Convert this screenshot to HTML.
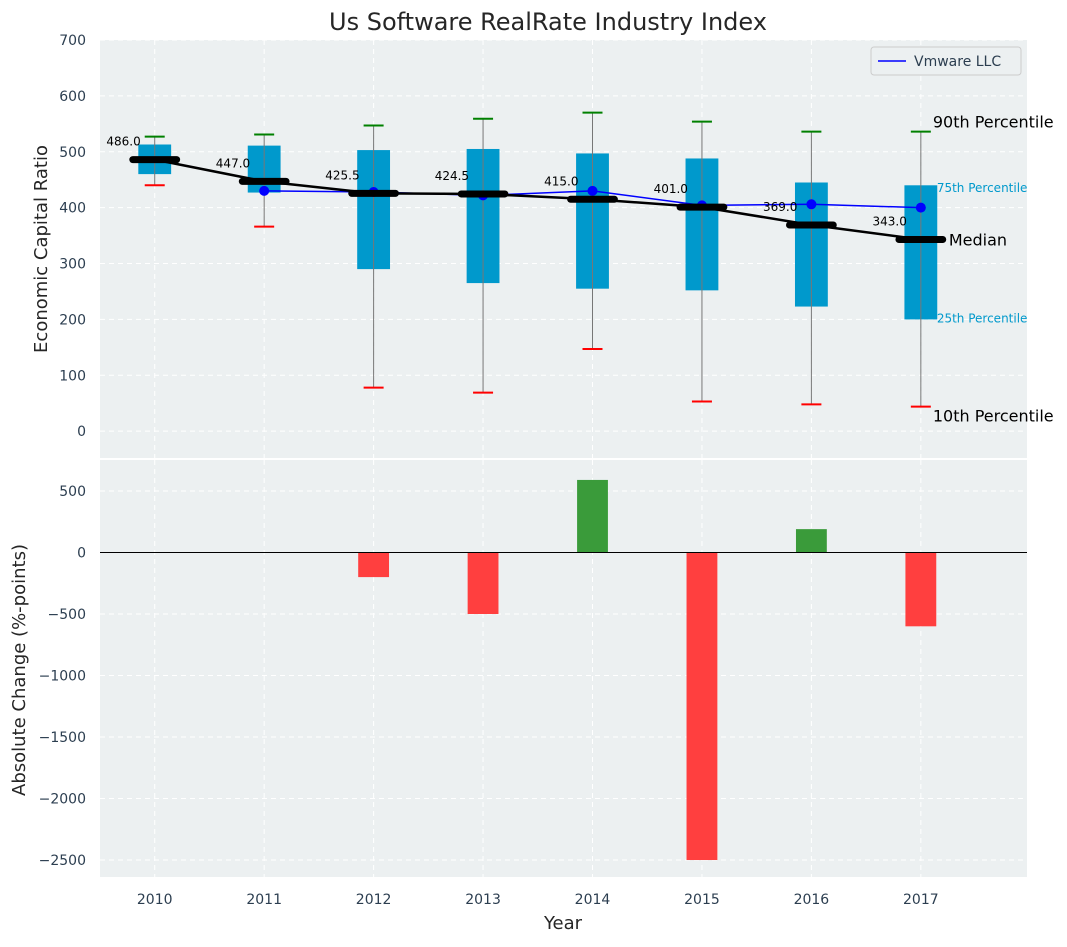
<!DOCTYPE html>
<html><head><meta charset="utf-8"><style>
body{margin:0;background:#fff;font-family:"Liberation Sans","DejaVu Sans",sans-serif}
svg text{font-family:"DejaVu Sans","Liberation Sans",sans-serif}
</style></head><body>
<svg id="chart" width="1067" height="942" xmlns="http://www.w3.org/2000/svg"></svg>
<script>
const years=[2010,2011,2012,2013,2014,2015,2016,2017];
const p10=[440,366,78,69,147,53,48,44];
const p25=[460,427,290,265,255,252,223,200];
const med=[486,447,425.5,424.5,415,401,369,343];
const p75=[513,511,503,505,497,488,445,440];
const p90=[527,531,547,559,570,554,536,536];
const vmYears=[2011,2012,2013,2014,2015,2016,2017];
const vm=[430,428,422,430,404,406,400];
const chg=[0,0,-200,-500,590,-2500,190,-600];
const topTicks=[0,100,200,300,400,500,600,700];
const botTicks=[500,0,-500,-1000,-1500,-2000,-2500];

const svg=document.getElementById('chart');
const NS='http://www.w3.org/2000/svg';
function el(t,a,txt){const e=document.createElementNS(NS,t);for(const k in a)e.setAttribute(k,a[k]);if(txt!==undefined)e.textContent=txt;svg.appendChild(e);return e;}
const L=100,R=1027;
const x=v=>L+(v-2009.5)/(2017.97-2009.5)*(R-L);
const T0=40,T1=458,yT=v=>T1-(v+48)/(700+48)*(T1-T0);
const B0=460,B1=877,yB=v=>B0+(752-v)/(752+2638)*(B1-B0);

let e;
e=el('rect',{x:L,y:T0,width:R-L,height:T1-T0,fill:'#ecf0f1'});

e=el('rect',{x:L,y:B0,width:R-L,height:B1-B0,fill:'#ecf0f1'});


years.forEach(yr=>{
 e=el('line',{x1:x(yr),x2:x(yr),y1:T0,y2:T1,stroke:'#fff','stroke-dasharray':'5,4','stroke-width':1});
 
 e=el('line',{x1:x(yr),x2:x(yr),y1:B0,y2:B1,stroke:'#fff','stroke-dasharray':'5,4','stroke-width':1});
 
 e=el('text',{x:x(yr),y:904,'text-anchor':'middle','font-size':14,fill:'#2c3e50'},yr);
 
});
topTicks.forEach(t=>{
 e=el('line',{x1:L,x2:R,y1:yT(t),y2:yT(t),stroke:'#fff','stroke-dasharray':'5,4'});
 
 e=el('text',{x:86,y:yT(t)+5,'text-anchor':'end','font-size':14,fill:'#2c3e50'},t);
 
});
botTicks.forEach(t=>{
 e=el('line',{x1:L,x2:R,y1:yB(t),y2:yB(t),stroke:'#fff','stroke-dasharray':'5,4'});
 
 e=el('text',{x:86,y:yB(t)+5,'text-anchor':'end','font-size':14,fill:'#2c3e50'},String(t).replace('-','−'));
 
});

const bw=0.3*(x(1)-x(0)), mw=0.4*(x(1)-x(0));
years.forEach((yr,i)=>{
 const cx=x(yr);
 e=el('rect',{x:cx-bw/2,y:yT(p75[i]),width:bw,height:yT(p25[i])-yT(p75[i]),fill:'#0099cc'});
 
 e=el('line',{x1:cx,x2:cx,y1:yT(p90[i]),y2:yT(p10[i]),stroke:'#777','stroke-width':1});
 
 e=el('line',{x1:cx-10,x2:cx+10,y1:yT(p90[i]),y2:yT(p90[i]),stroke:'green','stroke-width':2});
 
 e=el('line',{x1:cx-10,x2:cx+10,y1:yT(p10[i]),y2:yT(p10[i]),stroke:'red','stroke-width':2});
 
});
e=el('polyline',{points:vmYears.map((yr,i)=>x(yr)+','+yT(vm[i])).join(' '),fill:'none',stroke:'blue','stroke-width':1.5});

vmYears.forEach((yr,i)=>{
 e=el('circle',{cx:x(yr),cy:yT(vm[i]),r:5,fill:'blue'});
 
});
e=el('polyline',{points:years.map((yr,i)=>x(yr)+','+yT(med[i])).join(' '),fill:'none',stroke:'#000','stroke-width':2.5});

years.forEach((yr,i)=>{
 e=el('line',{x1:x(yr)-mw/2,x2:x(yr)+mw/2,y1:yT(med[i]),y2:yT(med[i]),stroke:'#000','stroke-width':7,'stroke-linecap':'round'});
 
 e=el('text',{x:x(yr)-14,y:yT(med[i])-14,'text-anchor':'end','font-size':12,fill:'#000'},med[i].toFixed(1));
 
});
const li=years.length-1, lx=x(years[li]);
[['90th Percentile',p90[li]+18,16,'#000',12],['75th Percentile',p75[li]-5,12,'#0099cc',16],['Median',med[li],16,'#000',28],['25th Percentile',p25[li]+2,12,'#0099cc',16],['10th Percentile',p10[li]-16,16,'#000',12]].forEach(a=>{
 e=el('text',{x:lx+a[4],y:yT(a[1])+(a[2]==16?6:4),'font-size':a[2],fill:a[3]},a[0]);
 
});
e=el('rect',{x:871,y:47,width:150,height:28,fill:'#ecf0f1',stroke:'#ccc',rx:3});

e=el('line',{x1:878,x2:906,y1:61,y2:61,stroke:'blue','stroke-width':1.5});

e=el('text',{x:914,y:66,'font-size':14,fill:'#2c3e50'},'Vmware LLC');


years.forEach((yr,i)=>{
 if(!chg[i])return;
 const y0=yB(0),y1=yB(chg[i]);
 e=el('rect',{x:x(yr)-bw/2+1,y:Math.min(y0,y1),width:bw-2,height:Math.abs(y1-y0),fill:chg[i]>0?'#3a9b3a':'#ff3f3f'});
 
});
e=el('line',{x1:L,x2:R,y1:yB(0),y2:yB(0),stroke:'#000','stroke-width':1});


e=el('text',{x:548,y:30,'text-anchor':'middle','font-size':24,fill:'#262626'},'Us Software RealRate Industry Index');

e=el('text',{x:563,y:929,'text-anchor':'middle','font-size':18,fill:'#262626'},'Year');

e=el('text',{x:47,y:249,'text-anchor':'middle','font-size':18,fill:'#262626',transform:'rotate(-90 47 249)'},'Economic Capital Ratio');

e=el('text',{x:25,y:670,'text-anchor':'middle','font-size':18,fill:'#262626',transform:'rotate(-90 25 670)'},'Absolute Change (%-points)');

</script>
</body></html>
